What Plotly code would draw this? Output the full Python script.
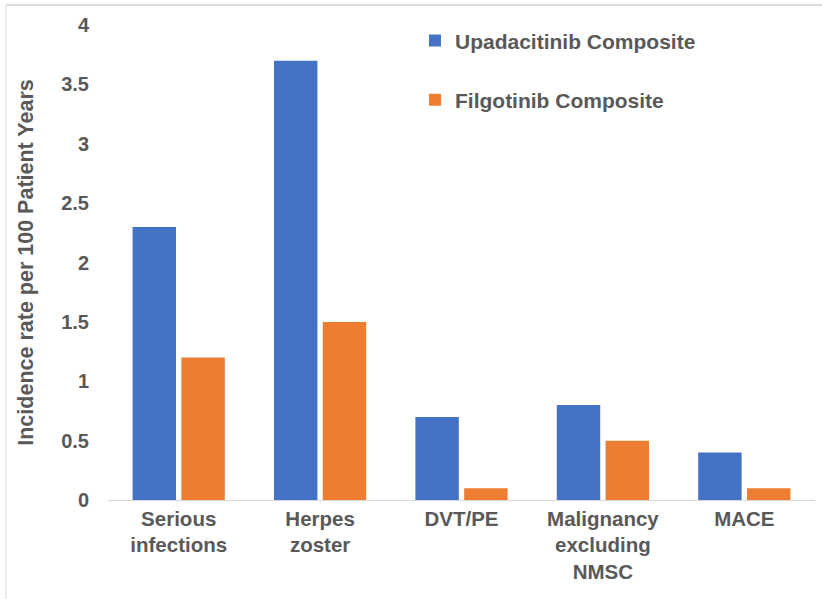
import plotly.graph_objects as go

categories = ["Serious<br>infections", "Herpes<br>zoster", "DVT/PE", "Malignancy<br>excluding<br>NMSC", "MACE"]
upadacitinib = [2.3, 3.7, 0.7, 0.8, 0.4]
filgotinib = [1.2, 1.5, 0.1, 0.5, 0.1]
y_ticks = [0, 0.5, 1, 1.5, 2, 2.5, 3, 3.5, 4]

FONT = "Liberation Sans, Arial, sans-serif"
GRAY = "#595959"

fig = go.Figure()
fig.add_trace(go.Bar(name="Upadacitinib Composite", x=categories, y=upadacitinib,
                     legendgroup="a",
                     marker=dict(color="#4472C4", line=dict(width=0))))
fig.add_trace(go.Bar(name="Filgotinib Composite", x=categories, y=filgotinib,
                     legendgroup="b",
                     marker=dict(color="#ED7D31", line=dict(width=0))))

fig.update_layout(
    width=822, height=599,
    margin=dict(l=108, r=7, t=25, b=99),
    paper_bgcolor="white", plot_bgcolor="white",
    barmode="group", bargap=0.31, bargroupgap=0.11,
    font=dict(family=FONT, color=GRAY, size=20),
    showlegend=True,
    legend=dict(x=0.4342, y=1.01, xanchor="left", yanchor="top",
                font=dict(size=21, color=GRAY, family=FONT, weight="bold"),
                tracegroupgap=29, itemwidth=30, bgcolor="rgba(0,0,0,0)"),
    xaxis=dict(showgrid=False, showline=True, linecolor="#D9D9D9", linewidth=1,
               ticks="", tickfont=dict(size=20.5, color=GRAY, family=FONT, weight="bold")),
    yaxis=dict(range=[0, 4], tickvals=y_ticks, ticktext=[f"{v:g}" for v in y_ticks],
               showgrid=False, zeroline=False, showline=False, ticks="",
               ticklabelstandoff=18,
               tickfont=dict(size=20, color=GRAY, family=FONT, weight="bold"),
               title=dict(text="Incidence rate per 100 Patient Years",
                          font=dict(size=21.5, color=GRAY, family=FONT, weight="bold"), standoff=21)),
    shapes=[
        dict(type="line", xref="paper", yref="paper", x0=-0.1443, x1=1.0099, y0=1.0421, y1=1.0421,
             line=dict(color="#D0D0D0", width=1.5)),
        dict(type="line", xref="paper", yref="paper", x0=-0.1443, x1=-0.1443, y0=1.0421, y1=-0.208,
             line=dict(color="#D9D9D9", width=1)),
    ],
)

fig.write_html("out.html", post_script="document.body.style.margin='0';",
               config={"displayModeBar": False})
